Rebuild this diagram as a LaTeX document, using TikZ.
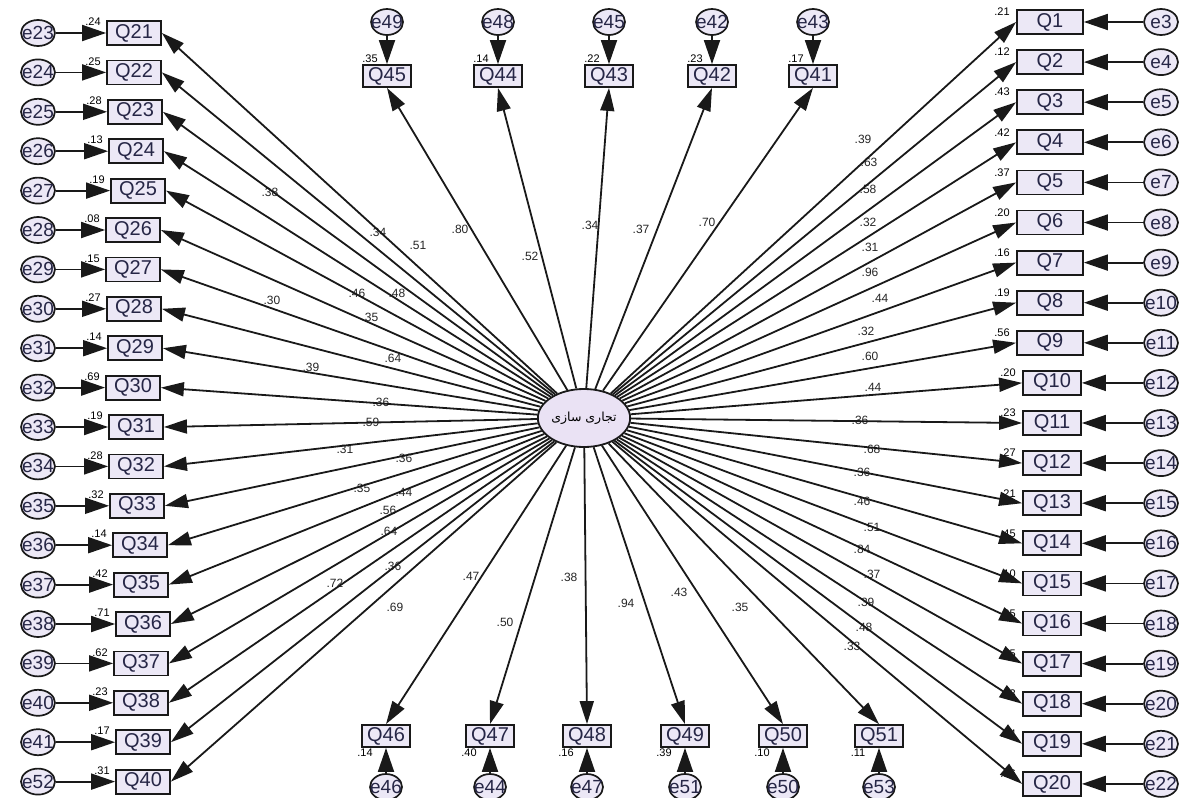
\documentclass[tikz,border=0pt]{standalone}
\usepackage{fontspec}
\setmainfont{Liberation Sans}
\newfontfamily\arabicfont[Script=Arabic]{DejaVu Sans}
\TeXXeTstate=1
\usetikzlibrary{arrows.meta,shapes.geometric}
\definecolor{boxfill}{RGB}{236,232,246}
\definecolor{ellfill}{RGB}{234,226,244}
\definecolor{qtext}{RGB}{38,38,70}
\newcommand\ezt[1]{\makebox[0pt]{#1}}
\begin{document}
\begin{tikzpicture}[x=1pt,y=-1pt,
  qbox/.style={draw=black!90, line width=1.8pt, fill=boxfill, minimum height=24pt,
    inner sep=0pt, font=\fontsize{20}{20}\selectfont, text=qtext},
  errc/.style={ellipse, draw=black!90, line width=1.7pt, fill=boxfill, minimum width=34pt,
    minimum height=26pt, inner sep=0pt, font=\fontsize{19}{19}\selectfont, text=qtext},
  rlbl/.style={font=\fontsize{11}{11}\selectfont, inner sep=0pt},
  clbl/.style={font=\fontsize{12}{12}\selectfont, inner sep=0pt, text=black!85},
  fl/.style={draw=black!90, line width=1.8pt, -{Triangle[length=23pt,width=14pt]}},
  ea/.style={draw=black!90, line width=1.8pt, -{Triangle[length=24pt,width=16pt]}}]
\useasboundingbox[fill=white] (0,0) rectangle (1184,798);

% central latent variable
\node[ellipse, draw=black!90, line width=1.8pt, fill=ellfill, minimum width=88pt,
  minimum height=58pt, inner sep=0pt] (F) at (584,418)
  {\fontsize{12.5}{12.5}\selectfont\arabicfont\beginR تجاری سازی\endR};

% left column Q21..Q40
\foreach \q/\x/\e/\r [count=\i from 0] in {21/134/23/.24,22/134/24/.25,23/135/25/.28,
  24/136/26/.13,25/138/27/.19,26/133/28/.08,27/133/29/.15,28/134/30/.27,29/135/31/.14,
  30/133/32/.69,31/136/33/.19,32/136/34/.28,33/137/35/.32,34/140/36/.14,35/141/37/.42,
  36/143/38/.71,37/141/39/.62,38/141/40/.23,39/143/41/.17,40/143/52/.31}{
  \pgfmathsetmacro\yy{33+39.4*\i}
  \node[qbox, minimum width=54pt] (Q\q) at (\x,\yy) {Q\q};
  \node[errc] (e\e) at (38,\yy) {\ezt{e\e}};
  \node[rlbl] at (\x-41,\yy-11) {\r};
}
% right column Q1..Q20
\foreach \q/\e/\r in {1/3/.21,2/4/.12,3/5/.43,4/6/.42,5/7/.37,6/8/.20,7/9/.16,8/10/.19,
  9/11/.56,10/12/.20,11/13/.23,12/14/.27,13/15/.21,14/16/.45,15/17/.10,16/18/.25,
  17/19/.15,18/20/.13,19/21/.14,20/22/.36}{
  \pgfmathsetmacro\yy{22+40.1*(\q-1)}
  \pgfmathsetmacro\ww{\q<10 ? 66 : 58}
  \pgfmathsetmacro\xx{\q<10 ? 1050 : 1052}
  \node[qbox, minimum width=\ww pt] (Q\q) at (\xx,\yy) {Q\q};
  \node[errc] (e\e) at (1161,\yy) {\ezt{e\e}};
  \node[rlbl] at (\xx-\ww/2-15,\yy-10) {\r};
}
% top row
\foreach \q/\x/\e/\r in {45/387/49/.35,44/498/48/.14,43/609/45/.22,42/712/42/.23,41/813/43/.17}{
  \node[qbox, minimum width=48pt, minimum height=22pt] (Q\q) at (\x,76) {Q\q};
  \node[errc, minimum width=32pt] (e\e) at (\x,22) {\ezt{e\e}};
  \node[rlbl] at (\x-17,59) {\r};
}
% bottom row
\foreach \q/\x/\e/\r in {46/386/46/.14,47/490/44/.40,48/587/47/.16,49/685/51/.39,50/783/50/.10,51/879/53/.11}{
  \node[qbox, minimum width=48pt, minimum height=22pt] (Q\q) at (\x,736) {Q\q};
  \node[errc, minimum width=32pt] (e\e) at (\x,787) {\ezt{e\e}};
  \node[rlbl] at (\x-21,753) {\r};
}

% path coefficients
\foreach \x/\y/\t in {270/192/.38,378/232/.34,418/245/.51,460/229/.80,530/256/.52,
  357/293/.46,397/293/.48,272/300/.30,370/317/.35,393/358/.64,311/367/.39,381/402/.36,
  371/422/.59,345/449/.31,404/458/.36,362/488/.35,404/492/.44,388/510/.56,389/531/.64,
  393/566/.36,335/583/.72,395/607/.69,471/576/.47,505/622/.50,569/577/.38,
  590/225/.34,641/229/.37,707/222/.70,
  863/139/.39,869/162/.63,868/189/.58,868/222/.32,870/247/.31,870/272/.96,880/298/.44,
  866/331/.32,870/356/.60,873/387/.44,860/420/.36,872/449/.68,862/472/.36,862/501/.46,
  872/527/.51,862/549/.84,872/574/.37,866/602/.39,864/627/.48,852/646/.33,
  626/603/.94,679/592/.43,740/607/.35}{
  \node[clbl] at (\x,\y) {\t};
}

% loadings
\foreach \q in {21,...,40}{ \draw[fl] (F) -- (Q\q.east); }
\foreach \q in {1,...,20}{ \draw[fl] (F) -- (Q\q.west); }
\foreach \q in {41,...,45}{ \draw[fl] (F) -- (Q\q.south); }
\foreach \q in {46,...,51}{ \draw[fl] (F) -- (Q\q.north); }

% error arrows
\foreach \q/\e in {21/23,22/24,23/25,24/26,25/27,26/28,27/29,28/30,29/31,30/32,31/33,
  32/34,33/35,34/36,35/37,36/38,37/39,38/40,39/41,40/52,
  1/3,2/4,3/5,4/6,5/7,6/8,7/9,8/10,9/11,10/12,11/13,12/14,13/15,14/16,15/17,16/18,
  17/19,18/20,19/21,20/22,
  45/49,44/48,43/45,42/42,41/43,46/46,47/44,48/47,49/51,50/50,51/53}{
  \draw[ea] (e\e) -- (Q\q);
}
\end{tikzpicture}
\end{document}
